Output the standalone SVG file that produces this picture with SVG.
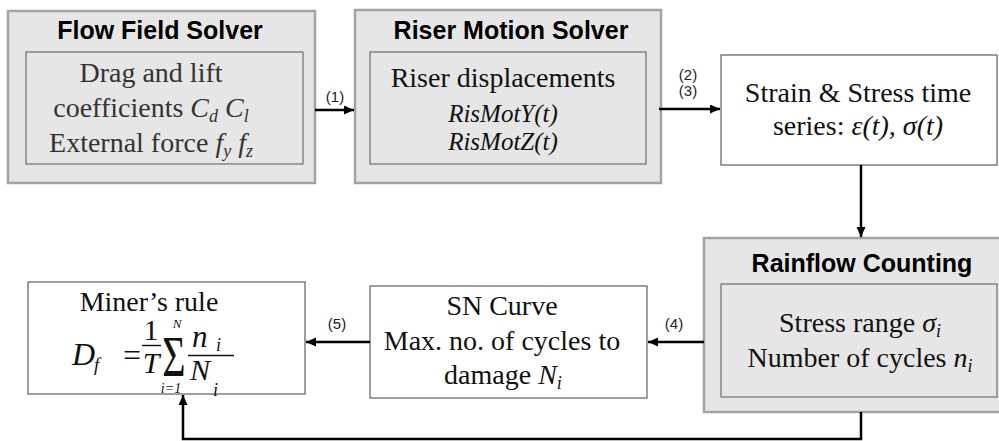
<svg xmlns="http://www.w3.org/2000/svg" width="999" height="441" viewBox="0 0 999 441">
<defs>
<marker id="ah" markerUnits="userSpaceOnUse" markerWidth="11" markerHeight="10" refX="10" refY="4.5" orient="auto">
<path d="M0,0 L10,4.5 L0,9 z" fill="#000"/>
</marker>
<style>
.outer{fill:#e6e6e6;stroke:#a3a3a3;stroke-width:2.5}
.inner{fill:#e6e6e6;stroke:#6e6e6e;stroke-width:1.2}
.wbox{fill:#fff;stroke:#6a6a6a;stroke-width:1.3}
.title{font-family:"Liberation Sans",Arial,sans-serif;font-weight:bold;font-size:25px;fill:#000;text-anchor:middle}
.tg{font-family:"Liberation Serif","Times New Roman",serif;font-size:28px;fill:#333;text-anchor:middle}
.tw{font-family:"Liberation Serif","Times New Roman",serif;font-size:28px;fill:#111;text-anchor:middle}
.it{font-style:italic}
.lbl{font-family:"Liberation Sans",Arial,sans-serif;font-size:15px;fill:#222;text-anchor:middle}
.conn{fill:none;stroke:#000;stroke-width:2.5}
.m{font-family:"Liberation Serif","Times New Roman",serif;font-style:italic;fill:#111}
.mr{font-family:"Liberation Serif","Times New Roman",serif;fill:#111;text-anchor:middle}
</style>
</defs>

<g id="flow-field-solver">
<rect class="outer" x="8" y="11" width="307" height="172"/>
<text class="title" x="160" y="39">Flow Field Solver</text>
<rect class="inner" x="26" y="52" width="277" height="112"/>
<text class="tg" x="151" y="82">Drag and lift</text>
<text class="tg" x="151" y="117">coefficients <tspan class="it">C</tspan><tspan class="it" font-size="18" dy="5">d</tspan><tspan dy="-5"> </tspan><tspan class="it">C</tspan><tspan class="it" font-size="18" dy="5">l</tspan></text>
<text class="tg" x="151" y="152">External force <tspan class="it">f</tspan><tspan class="it" font-size="18" dy="5">y</tspan><tspan dy="-5">  </tspan><tspan class="it">f</tspan><tspan class="it" font-size="18" dy="5">z</tspan></text>
</g>

<g id="riser-motion-solver">
<rect class="outer" x="355" y="10" width="306" height="173"/>
<text class="title" x="511" y="39">Riser Motion Solver</text>
<rect class="inner" x="370" y="52" width="276" height="112"/>
<text class="tw" x="503" y="87">Riser displacements</text>
<text class="tw it" x="503" y="122" style="font-size:25px">RisMotY(t)</text>
<text class="tw it" x="503" y="150" style="font-size:25px">RisMotZ(t)</text>
</g>

<g id="strain-stress">
<rect class="wbox" x="721" y="55" width="276" height="110"/>
<text class="tw" x="858" y="102">Strain &amp; Stress time</text>
<text class="tw" x="858" y="135">series: <tspan class="it">ε(t), σ(t)</tspan></text>
</g>

<g id="rainflow-counting">
<rect class="outer" x="704" y="238" width="300" height="174"/>
<text class="title" x="862" y="272">Rainflow Counting</text>
<rect class="inner" x="721" y="284" width="276" height="113"/>
<text class="tw" x="860" y="332">Stress range <tspan class="it">σ</tspan><tspan class="it" font-size="18" dy="5">i</tspan></text>
<text class="tw" x="860" y="367">Number of cycles <tspan class="it">n</tspan><tspan class="it" font-size="18" dy="5">i</tspan></text>
</g>

<g id="sn-curve">
<rect class="wbox" x="370" y="286" width="277" height="112"/>
<text class="tw" x="502" y="315">SN Curve</text>
<text class="tw" x="502" y="350">Max. no. of cycles to</text>
<text class="tw" x="503" y="384">damage <tspan class="it">N</tspan><tspan class="it" font-size="18" dy="5">i</tspan></text>
</g>

<g id="miners-rule">
<rect class="wbox" x="28" y="282" width="277" height="112"/>
<text class="tw" x="149" y="311">Miner’s rule</text>
<text class="m" x="72" y="365" font-size="32">D</text>
<text class="m" x="94" y="371" font-size="19">f</text>
<text class="mr" x="132" y="366" font-size="32">=</text>
<text class="mr" x="151" y="340" font-size="30">1</text>
<line x1="142" y1="345.5" x2="161" y2="345.5" stroke="#111" stroke-width="1.4"/>
<text class="m" x="151" y="373" font-size="30" text-anchor="middle">T</text>
<text class="mr" x="0" y="0" font-size="40" transform="translate(174,376) scale(1,1.4)">Σ</text>
<text class="m" x="177" y="328" font-size="13" text-anchor="middle">N</text>
<text class="m" x="171" y="393" font-size="14" text-anchor="middle">i=1</text>
<line x1="188" y1="355.5" x2="234" y2="355.5" stroke="#111" stroke-width="1.4"/>
<text class="m" x="192" y="347" font-size="31">n</text>
<text class="m" x="216" y="351" font-size="18">i</text>
<text class="m" x="190" y="380" font-size="30">N</text>
<text class="m" x="213" y="396" font-size="18">i</text>
</g>

<g id="connectors">
<path class="conn" d="M315,110 H354" marker-end="url(#ah)"/>
<text class="lbl" x="335" y="102">(1)</text>
<path class="conn" d="M659,109 H720" marker-end="url(#ah)"/>
<text class="lbl" x="688" y="80">(2)</text>
<text class="lbl" x="688" y="96">(3)</text>
<path class="conn" d="M861,165 V237" marker-end="url(#ah)"/>
<path class="conn" d="M704,342 H648" marker-end="url(#ah)"/>
<text class="lbl" x="674" y="329">(4)</text>
<path class="conn" d="M370,342 H306" marker-end="url(#ah)"/>
<text class="lbl" x="337" y="329">(5)</text>
<path class="conn" d="M861,412 V439 H183 V395" marker-end="url(#ah)"/>
</g>
</svg>
